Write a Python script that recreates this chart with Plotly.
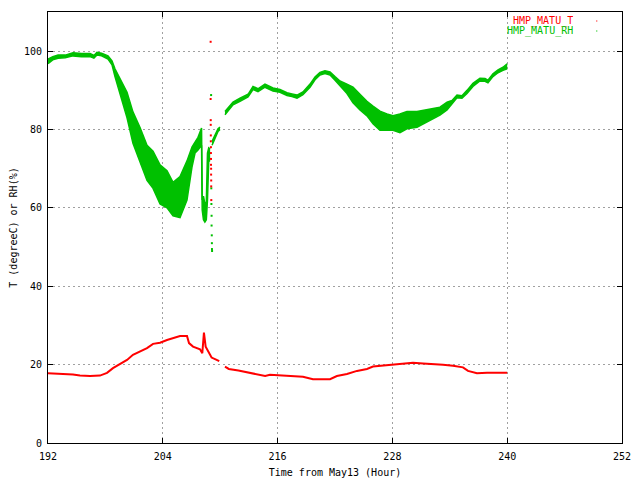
import plotly.graph_objects as go

# ---- data ----
# RH: time (hour) with upper / lower envelope of the noisy band; None = data gap
rh_time = [192.0, 192.5, 193.05, 193.8, 194.61, 195.5, 196.39, 196.8, 197.12, 197.6,
           198.27, 198.69, 199.0, 199.53, 200.26, 200.88, 201.62, 202.35, 202.98, 203.71,
           204.44, 205.07, 205.8, 206.53, 207.05, 207.37, 207.68, 208.05, 208.12, 208.25,
           208.4, 208.55, 208.67, 208.8, 208.95, None,
           209.15, 209.46, 209.77, 209.98, None,
           210.5, 211.34, 212.07, 212.91, 213.43, 213.95, 214.68, 215.52, 216.25, 216.98,
           217.5, 218.03, 218.65, 219.39, 219.91, 220.43, 220.95, 221.48, 222.0, 222.52,
           223.25, 223.88, 224.61, 225.34, 225.97, 226.7, 227.43, 228.06, 228.79, 229.52,
           230.57, 231.93, 232.97, 233.71, 234.23, 234.75, 235.27, 235.8, 236.42, 237.15,
           237.68, 237.99, 238.51, 239.04, 239.56, 240.0]
rh_high = [98.0, 98.6, 99.0, 99.0, 99.6, 99.4, 99.4, 98.9, 99.7, 99.5,
           98.8, 97.5, 95.5, 93.0, 89.5, 84.5, 80.5, 76.0, 74.5, 71.0,
           69.5, 66.5, 68.0, 72.0, 75.5, 76.8, 78.0, 80.4, 62.0, 63.0,
           61.0, 61.5, 74.0, 75.3, 75.0, None,
           77.0, 78.8, 80.2, 80.6, None,
           84.6, 87.0, 88.0, 89.0, 91.0, 90.4, 91.6, 90.6, 90.2, 89.4,
           89.1, 88.8, 89.6, 91.6, 93.4, 94.6, 95.0, 94.7, 93.5, 92.4,
           91.6, 90.8, 89.0, 87.2, 86.0, 84.7, 84.0, 83.5, 84.0, 84.6,
           84.6, 85.2, 85.7, 87.0, 87.4, 88.8, 88.6, 90.0, 91.8, 93.1,
           93.0, 92.6, 94.2, 95.2, 95.9, 96.8]
rh_low = [96.8, 97.8, 98.2, 98.3, 98.8, 98.6, 98.6, 98.2, 99.0, 98.8,
          98.0, 96.5, 93.5, 89.0, 83.0, 76.5, 71.5, 67.0, 65.0, 61.0,
          60.0, 58.0, 57.5, 62.0, 70.4, 74.0, 74.8, 76.0, 59.5, 57.0,
          56.4, 57.0, 62.0, 72.0, 72.0, None,
          76.0, 78.0, 79.5, 80.0, None,
          83.8, 86.3, 87.2, 88.3, 90.2, 89.7, 90.8, 89.8, 89.5, 88.7,
          88.4, 88.0, 88.9, 90.8, 92.7, 93.9, 94.3, 93.9, 92.6, 91.2,
          89.2, 86.8, 85.0, 83.5, 81.5, 79.8, 79.8, 79.8, 79.2, 80.2,
          80.6, 82.3, 83.7, 85.0, 86.6, 88.1, 88.0, 89.2, 91.0, 92.4,
          92.3, 91.9, 93.5, 94.5, 95.1, 95.5]

# isolated RH dots (sensor glitch near hour 209)
rh_spike_time = [209.05, 209.07, 209.08, 209.1, 209.1, 209.12, 209.13, 209.14, 209.15]
rh_spike_val = [88.8, 65.0, 61.0, 58.0, 55.5, 53.0, 51.0, 49.5, 49.0]

# Temperature
t_time = [192.0, 194.61, 195.34, 196.39, 197.43, 198.17, 198.79, 199.53, 200.26, 200.88,
          201.62, 202.35, 202.98, 203.71, 204.44, 205.07, 205.8, 206.53, 206.74, 207.16,
          207.89, 208.13, 208.3, 208.48, 208.75, 209.1, 209.46, 209.9, None,
          210.5, 210.9, 211.9, 213.25, 214.7, 215.2, 217.3, 218.65, 219.7, 220.74,
          221.48, 222.2, 223.25, 224.3, 225.34, 225.97, 226.7, 227.75, 229.1, 230.15,
          231.2, 232.24, 233.29, 234.33, 235.38, 235.9, 236.84, 237.89, 240.0]
t_val = [17.8, 17.5, 17.2, 17.1, 17.2, 17.9, 19.1, 20.1, 21.2, 22.5,
         23.3, 24.2, 25.3, 25.6, 26.3, 26.7, 27.3, 27.3, 25.5, 24.6,
         23.9, 22.9, 28.2, 24.6, 23.3, 21.8, 21.4, 20.9, None,
         19.5, 18.9, 18.5, 17.8, 17.1, 17.4, 17.2, 16.9, 16.3, 16.3,
         16.3, 17.1, 17.6, 18.4, 18.9, 19.5, 19.7, 20.0, 20.3, 20.5,
         20.3, 20.2, 20.0, 19.7, 19.3, 18.4, 17.8, 17.9, 17.9]

# isolated T dots (sensor glitch near hour 209)
t_spike_time = [209.0, 209.0, 209.01, 209.01, 209.02, 209.02, 209.03, 209.03, 209.04,
                209.04, 209.05, 209.05, 209.06, 209.06, 209.07]
t_spike_val = [102.4, 87.8, 82.4, 81.2, 78.5, 77.0, 75.5, 74.0, 72.5,
               71.0, 70.0, 68.5, 67.0, 65.5, 62.0]

x_ticks = [192, 204, 216, 228, 240, 252]
y_ticks = [0, 20, 40, 60, 80, 100]

RED = "#ff0000"
GREEN = "#00c000"
FONT = "DejaVu Sans Mono"


def segments(xs, *cols):
    out, cur = [], [[] for _ in range(len(cols) + 1)]
    for i, x in enumerate(xs):
        if x is None:
            if cur[0]:
                out.append(cur)
            cur = [[] for _ in range(len(cols) + 1)]
            continue
        cur[0].append(x)
        for k, c in enumerate(cols):
            cur[k + 1].append(c[i])
    if cur[0]:
        out.append(cur)
    return out


fig = go.Figure()

# RH band
for xs, hi, lo in segments(rh_time, rh_high, rh_low):
    fig.add_trace(go.Scatter(x=xs, y=lo, mode="lines", line=dict(color=GREEN, width=1.5),
                             showlegend=False, hoverinfo="skip"))
    fig.add_trace(go.Scatter(x=xs, y=hi, mode="lines", line=dict(color=GREEN, width=1.5),
                             fill="tonexty", fillcolor=GREEN, showlegend=False, hoverinfo="skip"))

fig.add_trace(go.Scatter(x=rh_spike_time, y=rh_spike_val, mode="markers",
                         marker=dict(color=GREEN, size=2, symbol="square"), showlegend=False))

# Temperature
for xs, vals in segments(t_time, t_val):
    fig.add_trace(go.Scatter(x=xs, y=vals, mode="lines", line=dict(color=RED, width=2),
                             showlegend=False))
fig.add_trace(go.Scatter(x=t_spike_time, y=t_spike_val, mode="markers",
                         marker=dict(color=RED, size=2, symbol="square"), showlegend=False))

axis_common = dict(
    showline=True, linecolor="black", linewidth=1, mirror="ticks",
    ticks="inside", ticklen=5, tickcolor="black",
    showgrid=True, gridcolor="#a0a0a0", gridwidth=1, griddash="2px,3px",
    zeroline=False, tickfont=dict(family=FONT, size=10, color="black"),
    automargin=False,
)

fig.update_xaxes(range=[192, 252], tickvals=x_ticks, ticktext=[str(v) for v in x_ticks],
                 title=dict(text="Time from May13 (Hour)", font=dict(family=FONT, size=10, color="black"),
                            standoff=7),
                 ticklabelstandoff=4,
                 **axis_common)
fig.update_yaxes(range=[0, 110], tickvals=y_ticks, ticktext=[str(v) for v in y_ticks],
                 title=dict(text="T (degreeC) or RH(%)", font=dict(family=FONT, size=10, color="black"),
                            standoff=8),
                 ticklabelstandoff=3,
                 **axis_common)

# legend as coloured text (gnuplot style)
fig.add_annotation(x=0.918, y=0.978, xref="paper", yref="paper", text="HMP_MATU_T",
                   showarrow=False, xanchor="right", yanchor="middle", height=14,
                   font=dict(family=FONT, size=10, color=RED))
fig.add_annotation(x=0.918, y=0.955, xref="paper", yref="paper", text="HMP_MATU_RH",
                   showarrow=False, xanchor="right", yanchor="middle", height=14,
                   font=dict(family=FONT, size=10, color=GREEN))
fig.add_shape(type="rect", xref="paper", yref="paper", x0=0.955, x1=0.957, y0=0.978, y1=0.980,
              line=dict(width=0), fillcolor=RED)
fig.add_shape(type="rect", xref="paper", yref="paper", x0=0.955, x1=0.957, y0=0.955, y1=0.957,
              line=dict(width=0), fillcolor=GREEN)

# the page body adds an 8px offset, so the figure is 8px smaller and margins shifted
fig.update_layout(
    width=632, height=472,
    margin=dict(l=40, r=18, t=4, b=37, autoexpand=False),
    paper_bgcolor="white", plot_bgcolor="white",
    showlegend=False,
    font=dict(family=FONT, size=10, color="black"),
)

fig.write_html("out.html")
